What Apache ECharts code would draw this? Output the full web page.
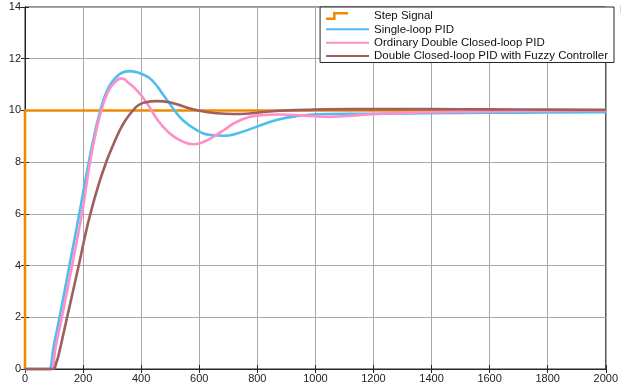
<!DOCTYPE html>
<html>
<head>
<meta charset="utf-8">
<script src="https://cdn.jsdelivr.net/npm/echarts@6/dist/echarts.min.js"></script>
<style>
html,body{margin:0;padding:0;background:#fff;}
#c{width:621px;height:387px;}
</style>
</head>
<body>
<div id="c"></div>
<script>
// ---- data ----
var seriesNames = ['Step Signal', 'Single-loop PID', 'Ordinary Double Closed-loop PID', 'Double Closed-loop PID with Fuzzy Controller'];

var stepT = [0, 0, 2000];
var stepY = [0, 10, 10];

var singleT = [0, 60, 80, 83, 100, 119, 153, 187, 203, 218, 237, 257, 280, 300, 323, 345, 362, 380, 402, 436, 481, 515, 543, 594, 639, 685, 730, 798, 866, 934, 1036, 1200, 1400, 1600, 1800, 2000];
var singleY = [0, 0, 0, 0, 0.95, 2, 4, 6, 7, 7.9, 8.95, 9.9, 10.7, 11.1, 11.38, 11.5, 11.52, 11.49, 11.41, 11.18, 10.53, 10.0, 9.63, 9.22, 9.05, 9.02, 9.11, 9.37, 9.63, 9.78, 9.86, 9.87, 9.89, 9.91, 9.92, 9.93];

var ordinaryT = [0, 65, 87, 90, 108, 127, 162, 196, 210, 224, 243, 263, 285, 310, 334, 357, 390, 424, 453, 490, 530, 580, 600, 639, 685, 730, 798, 880, 960, 1050, 1150, 1250, 1400, 1600, 1800, 2000];
var ordinaryY = [0, 0, 0, 0, 1, 2, 4, 6, 7, 8, 9.1, 10, 10.7, 11.1, 11.24, 11.06, 10.72, 10.21, 9.69, 9.2, 8.87, 8.69, 8.72, 8.92, 9.24, 9.56, 9.80, 9.84, 9.80, 9.75, 9.82, 9.88, 9.93, 9.96, 9.98, 9.99];

var fuzzyT = [0, 70, 96, 108, 120, 132, 145, 165, 185, 204, 224, 254, 283, 305, 325, 345, 368, 390, 413, 453, 504, 549, 600, 662, 719, 760, 798, 877, 968, 1036, 1200, 1400, 1600, 1800, 2000];
var fuzzyY = [0, 0, 0, 0.25, 0.75, 1.35, 2, 3, 4, 5, 5.95, 7.15, 8.1, 8.7, 9.2, 9.6, 9.95, 10.2, 10.31, 10.36, 10.30, 10.14, 9.99, 9.89, 9.86, 9.87, 9.91, 9.99, 10.02, 10.04, 10.05, 10.05, 10.04, 10.03, 10.02];

var xTicks = {min: 0, max: 2000, interval: 200};
var yTicks = {min: 0, max: 14, interval: 2};

// ---- build ----
function zip(t, y) { return t.map(function (v, i) { return [v, y[i]]; }); }

var colors = ['#EE8A00', '#4DBEEE', '#FF8FC8', '#9E5F5F'];
var axisColor = '#262626';
var font = 'Liberation Sans, Arial, Helvetica, sans-serif';

var chart = echarts.init(document.getElementById('c'), null, {renderer: 'canvas'});

function lineSeries(name, data, color, smooth, z) {
  return {
    name: name, type: 'line', data: data, smooth: smooth,
    showSymbol: false, symbol: 'none', clip: false, z: z,
    lineStyle: {color: color, width: 2.6}, itemStyle: {color: color},
    emphasis: {disabled: true}, animation: false
  };
}

var stepIcon = 'path://M0,5.5 L7,5.5 L7,0 L22,0 L22,2.5 L9.5,2.5 L9.5,8 L0,8 Z M42.9,4 L43,4';
function plainNum(v) { return String(v); }

chart.setOption({
  animation: false,
  backgroundColor: '#fff',
  title: {text: 'D', left: 615, top: 0, textStyle: {fontSize: 10, fontWeight: 'normal', color: '#222', fontFamily: font}},
  grid: {left: 25, right: 7, top: 7, bottom: 18, show: true, borderColor: axisColor, borderWidth: 1, backgroundColor: '#fff'},
  legend: {
    orient: 'vertical', right: 7, top: 7,
    backgroundColor: '#fff', borderColor: axisColor, borderWidth: 1, borderRadius: 0,
    padding: [2.5, 6, 0, 5], itemGap: 0.33, itemWidth: 43, itemHeight: 8,
    itemStyle: {opacity: 0},
    textStyle: {fontSize: 11.5, color: '#111', fontFamily: font, lineHeight: 13},
    data: [
      {name: seriesNames[0], icon: stepIcon, itemStyle: {color: colors[0], borderWidth: 0, opacity: 1}},
      {name: seriesNames[1]},
      {name: seriesNames[2]},
      {name: seriesNames[3]}
    ]
  },
  xAxis: [
    {type: 'value', position: 'bottom', min: xTicks.min, max: xTicks.max, interval: xTicks.interval,
     axisLine: {show: true, lineStyle: {color: axisColor, width: 1}},
     axisTick: {show: true, inside: true, length: 4, lineStyle: {color: axisColor}},
     axisLabel: {color: '#222', fontSize: 11, fontFamily: font, margin: 4, showMaxLabel: true, showMinLabel: true,
                 alignMaxLabel: 'center', alignMinLabel: 'center', formatter: plainNum},
     splitLine: {show: true, lineStyle: {color: '#a8a8a8', width: 1}}},
    {type: 'value', position: 'top', min: xTicks.min, max: xTicks.max, interval: xTicks.interval,
     axisLine: {show: true, lineStyle: {color: axisColor, width: 1}},
     axisTick: {show: true, inside: true, length: 4, lineStyle: {color: axisColor}},
     axisLabel: {show: false}, splitLine: {show: false}}
  ],
  yAxis: [
    {type: 'value', position: 'left', min: yTicks.min, max: yTicks.max, interval: yTicks.interval,
     axisLine: {show: true, lineStyle: {color: axisColor, width: 1}},
     axisTick: {show: true, inside: true, length: 4, lineStyle: {color: axisColor}},
     axisLabel: {color: '#222', fontSize: 11, fontFamily: font, margin: 4, formatter: plainNum},
     splitLine: {show: true, lineStyle: {color: '#a8a8a8', width: 1}}},
    {type: 'value', position: 'right', min: yTicks.min, max: yTicks.max, interval: yTicks.interval,
     axisLine: {show: true, lineStyle: {color: axisColor, width: 1}},
     axisTick: {show: true, inside: true, length: 4, lineStyle: {color: axisColor}},
     axisLabel: {show: false}, splitLine: {show: false}}
  ],
  series: [
    lineSeries(seriesNames[0], zip(stepT, stepY), colors[0], false, 2),
    lineSeries(seriesNames[1], zip(singleT, singleY), colors[1], 0.5, 3),
    lineSeries(seriesNames[2], zip(ordinaryT, ordinaryY), colors[2], 0.5, 4),
    lineSeries(seriesNames[3], zip(fuzzyT, fuzzyY), colors[3], 0.5, 5)
  ]
});
</script>
</body>
</html>
